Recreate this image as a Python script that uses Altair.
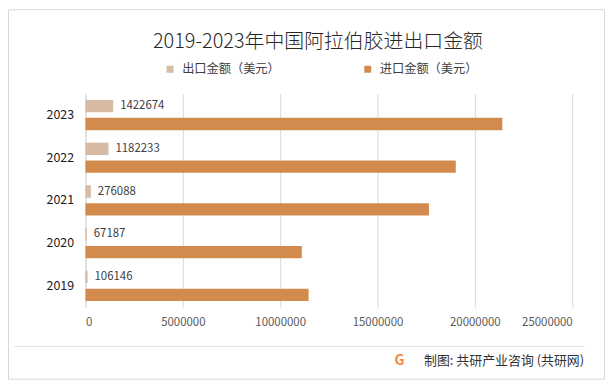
import altair as alt
import pandas as pd

years = ["2019", "2020", "2021", "2022", "2023"]
export_vals = [106146, 67187, 276088, 1182233, 1422674]
import_vals = [11460000, 11110000, 17640000, 19020000, 21410000]
series = ["出口金额（美元）", "进口金额（美元）"]
colors = ["#D6BAA4", "#D38B4D"]
x_ticks = [0, 5000000, 10000000, 15000000, 20000000, 25000000]
title_text = "2019-2023年中国阿拉伯胶进出口金额"
footer_text = "制图: 共研产业咨询 (共研网)"

rows = []
for yr, e, i in zip(years, export_vals, import_vals):
    rows.append({"year": yr, "series": series[0], "value": e})
    rows.append({"year": yr, "series": series[1], "value": i})
df = pd.DataFrame(rows)
export_df = df[df["series"] == series[0]]
one = pd.DataFrame({"a": [0]})

FONT = "Noto Sans CJK SC"
year_order = years[::-1]

y_enc = alt.Y(
    "year:N", sort=year_order,
    scale=alt.Scale(paddingInner=0, paddingOuter=0),
    axis=alt.Axis(title=None, ticks=False, labelPadding=12, labelFontSize=12.5,
                  labelColor="#1A1A1A", domain=True, domainColor="#D9D9D9", grid=False),
)
y_off = alt.YOffset(
    "series:N", sort=series,
    scale=alt.Scale(domain=series, paddingInner=0.31, paddingOuter=0.35),
)
x_enc = alt.X(
    "value:Q",
    scale=alt.Scale(domain=[0, 25000000], nice=False),
    axis=alt.Axis(title=None, values=x_ticks, format="d", ticks=False, domain=False,
                  grid=True, gridColor="#D9D9D9", labelPadding=9, labelFontSize=11.5,
                  labelColor="#595959"),
)

border = alt.Chart(one).mark_rect(fillOpacity=0, stroke="#D9D9D9", strokeWidth=1).encode(
    x=alt.value(-77.5), x2=alt.value(522.5), y=alt.value(-84.5), y2=alt.value(287.5)
)

bars = alt.Chart(df).mark_bar().encode(
    y=y_enc, yOffset=y_off, x=x_enc,
    color=alt.Color(
        "series:N",
        scale=alt.Scale(domain=series, range=colors),
        legend=alt.Legend(title=None, orient="none", legendX=79, legendY=-31,
                          direction="horizontal", columns=2, columnPadding=82,
                          symbolType="square", symbolSize=49, symbolStrokeWidth=0,
                          labelFontSize=12.3, labelColor="#404040", labelOffset=6,
                          padding=0),
    ),
)

labels = alt.Chart(export_df).mark_text(
    align="left", baseline="middle", dx=7, fontSize=11.5, color="#404040"
).encode(y=y_enc, yOffset=y_off, x=x_enc, text=alt.Text("value:Q", format="d"))

title = alt.Chart(one).mark_text(
    text=title_text, fontSize=20, fontWeight=300, align="center", baseline="alphabetic",
    color="#262626"
).encode(x=alt.value(234), y=alt.value(-46))

sep = alt.Chart(one).mark_rule(color="#E3E3E3", strokeWidth=1).encode(
    x=alt.value(-72), x2=alt.value(502), y=alt.value(254.5)
)

footer = alt.Chart(one).mark_text(
    text=footer_text, fontSize=13, align="right", baseline="middle", color="#333333"
).encode(x=alt.value(502), y=alt.value(269))

logo = alt.Chart(one).mark_text(
    text="G", fontSize=14, fontWeight="bold", align="center", baseline="middle", color="#F08A3C"
).encode(x=alt.value(316), y=alt.value(269))

chart = alt.layer(border, bars, labels, title, sep, footer, logo).properties(
    width=490, height=215,
    autosize=alt.AutoSizeParams(type="none"),
    padding={"left": 78, "top": 85, "right": 33, "bottom": 73},
    background="white",
).configure(font=FONT).configure_view(strokeWidth=0)

chart.save("out.html", embed_options={"renderer": "svg", "actions": False})
